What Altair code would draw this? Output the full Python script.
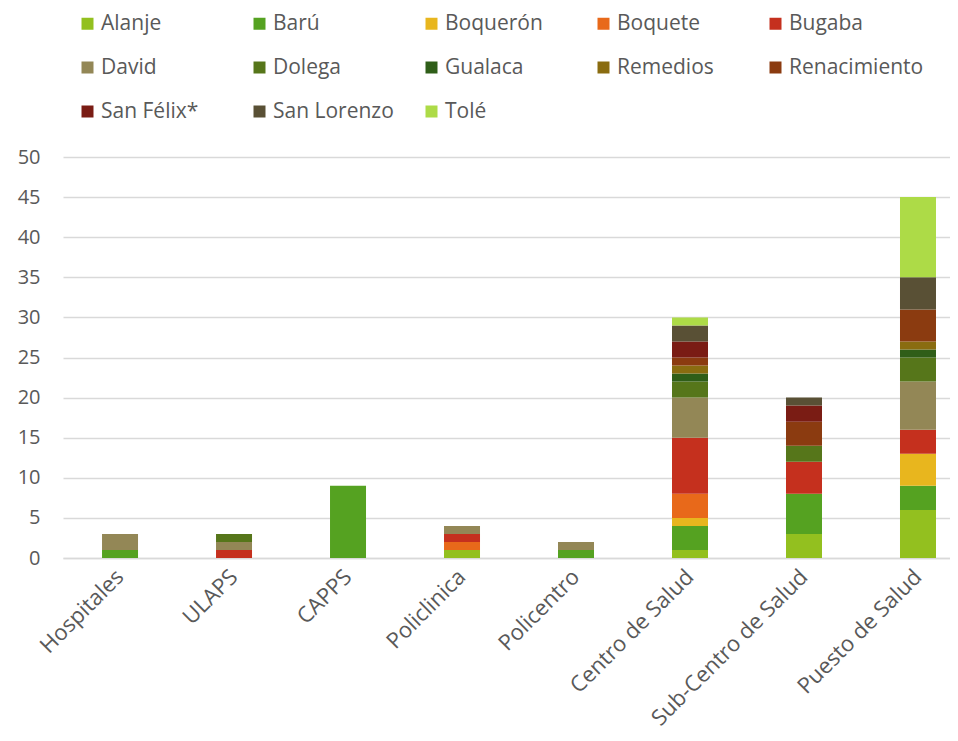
import altair as alt
import pandas as pd

categories = ["Hospitales", "ULAPS", "CAPPS", "Policlinica", "Policentro",
              "Centro de Salud", "Sub-Centro de Salud", "Puesto de Salud"]

municipios = ["Alanje", "Barú", "Boquerón", "Boquete", "Bugaba", "David", "Dolega",
              "Gualaca", "Remedios", "Renacimiento", "San Félix*", "San Lorenzo", "Tolé"]

colors = ["#93C01F", "#55A221", "#E8B61E", "#E8691A", "#C5301E", "#938756", "#56761A",
          "#2F5E18", "#8A6C10", "#8B3B10", "#7A1C14", "#595035", "#ADDB47"]

alanje       = [0, 0, 0, 1, 0, 1, 3, 6]
baru         = [1, 0, 9, 0, 1, 3, 5, 3]
boqueron     = [0, 0, 0, 0, 0, 1, 0, 4]
boquete      = [0, 0, 0, 1, 0, 3, 0, 0]
bugaba       = [0, 1, 0, 1, 0, 7, 4, 3]
david        = [2, 1, 0, 1, 1, 5, 0, 6]
dolega       = [0, 1, 0, 0, 0, 2, 2, 3]
gualaca      = [0, 0, 0, 0, 0, 1, 0, 1]
remedios     = [0, 0, 0, 0, 0, 1, 0, 1]
renacimiento = [0, 0, 0, 0, 0, 1, 3, 4]
san_felix    = [0, 0, 0, 0, 0, 2, 2, 0]
san_lorenzo  = [0, 0, 0, 0, 0, 2, 1, 4]
tole         = [0, 0, 0, 0, 0, 1, 0, 10]

series = [alanje, baru, boqueron, boquete, bugaba, david, dolega,
          gualaca, remedios, renacimiento, san_felix, san_lorenzo, tole]

rows = []
for i, (m, vals) in enumerate(zip(municipios, series)):
    for c, v in zip(categories, vals):
        if v > 0:
            rows.append({"categoria": c, "municipio": m, "valor": v, "idx": i})
df = pd.DataFrame(rows)

FONT = "Open Sans"
GRAY = "#595959"

chart = alt.Chart(df).mark_bar(size=36).encode(
    x=alt.X("categoria:N", sort=categories,
            scale=alt.Scale(paddingInner=0.684, paddingOuter=0.2325, align=0.736),
            axis=alt.Axis(title=None, labelAngle=-45, labelAlign="right",
                          labelBaseline="middle", labelPadding=15, ticks=False,
                          domain=True, domainColor="#d9d9d9", domainWidth=1.5,
                          labelFontSize=22, labelColor=GRAY, labelFont=FONT,
                          labelLimit=400)),
    y=alt.Y("valor:Q", stack="zero",
            scale=alt.Scale(domain=[0, 50], nice=False),
            axis=alt.Axis(title=None, values=list(range(0, 51, 5)), ticks=False,
                          domain=False, grid=True, gridColor="#d9d9d9", gridWidth=1.5,
                          labelPadding=23, labelFontSize=20, labelColor=GRAY,
                          labelFont=FONT)),
    color=alt.Color("municipio:N", sort=municipios,
                    scale=alt.Scale(domain=municipios, range=colors),
                    legend=alt.Legend(title=None, orient="none", legendX=14, legendY=-144,
                                      columns=5, direction="horizontal",
                                      symbolType="square", symbolSize=144,
                                      symbolStrokeWidth=0, labelFontSize=21,
                                      labelColor=GRAY, labelFont=FONT, labelOffset=3,
                                      columnPadding=13, rowPadding=22, gridAlign="all",
                                      padding=0, labelLimit=300)),
    order=alt.Order("idx:Q", sort="ascending"),
).properties(
    width=887, height=401,
    autosize=alt.AutoSizeParams(type="none"),
    padding={"left": 55, "top": 149, "right": 0, "bottom": 175},
).configure_view(stroke=None)

chart.save("out.html", embed_options={"renderer": "svg", "actions": False})
